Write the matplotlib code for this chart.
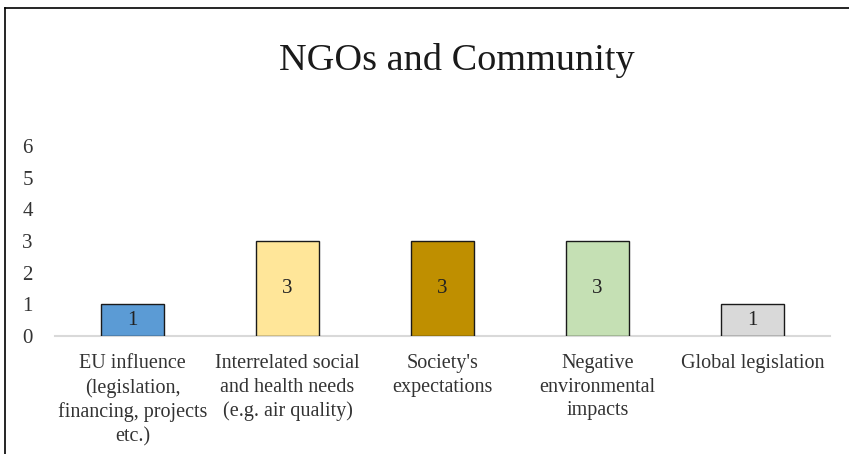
import matplotlib.pyplot as plt
from matplotlib.lines import Line2D

categories = [
    "EU influence\n(legislation,\nfinancing, projects\netc.)",
    "Interrelated social\nand health needs\n(e.g. air quality)",
    "Society's\nexpectations",
    "Negative\nenvironmental\nimpacts",
    "Global legislation",
]
values = [1, 3, 3, 3, 1]
colors = ["#5B9BD5", "#FFE699", "#BF8F00", "#C5E0B4", "#D9D9D9"]
yticks = [0, 1, 2, 3, 4, 5, 6]

plt.rcParams["font.family"] = ["Liberation Serif", "DejaVu Serif"]

fig = plt.figure(figsize=(8.49, 4.54), dpi=100)
ax = fig.add_axes([55 / 849, 1 - 336 / 454, 775 / 849, 190 / 454])

x = list(range(len(categories)))
bars = ax.bar(x, values, width=0.41, color=colors, edgecolor="#1a1a1a", linewidth=1.0, zorder=3)
for xi, v in zip(x, values):
    ax.text(xi, v / 2, str(v), ha="center", va="center", fontsize=15, color="#222222", zorder=4)

ax.set_xlim(-0.5, len(categories) - 0.5)
ax.set_ylim(0, 6)
ax.set_yticks(yticks)
ax.set_xticks(x)
ax.set_xticklabels(categories, fontsize=14.5, color="#333333", linespacing=1.32)
ax.tick_params(axis="x", length=0, pad=13)
ax.tick_params(axis="y", length=0, pad=16, labelsize=15, labelcolor="#333333")
for s in ["top", "right", "left"]:
    ax.spines[s].set_visible(False)
ax.spines["bottom"].set_color("#D9D9D9")
ax.spines["bottom"].set_linewidth(1.5)

fig.text(457 / 849, 1 - 61 / 454, "NGOs and Community", ha="center", va="center",
         fontsize=27.5, color="#1a1a1a")

# outer frame (top and left edges)
fig.add_artist(Line2D([5 / 849, 1.0], [1 - 8 / 454, 1 - 8 / 454], transform=fig.transFigure,
                      color="black", linewidth=1.2))
fig.add_artist(Line2D([5 / 849, 5 / 849], [0, 1 - 8 / 454], transform=fig.transFigure,
                      color="black", linewidth=1.2))

fig.savefig("out.png", dpi=100)
